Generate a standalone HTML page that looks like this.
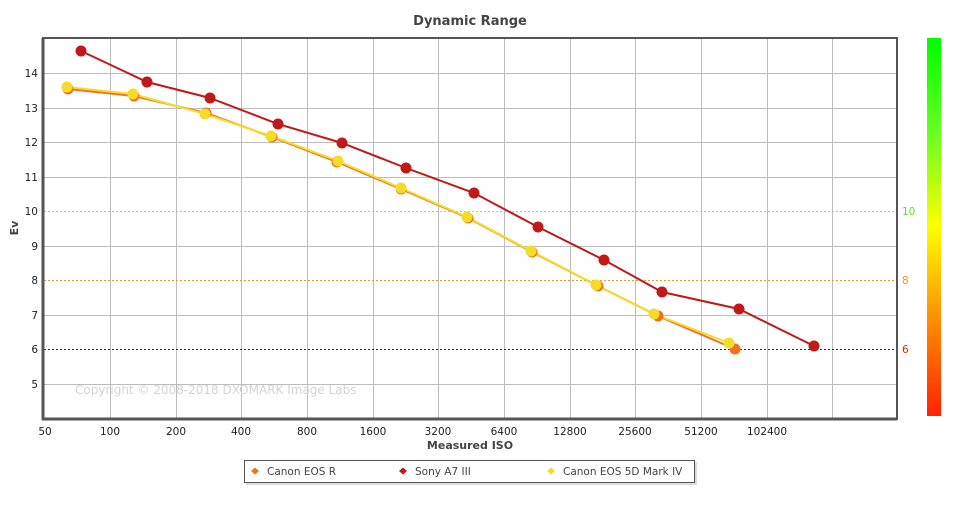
<!DOCTYPE html>
<html><head><meta charset="utf-8"><style>
body{margin:0;background:#fff;width:956px;height:501px;overflow:hidden}
svg text{font-family:"DejaVu Sans","Liberation Sans",sans-serif}
</style></head><body>
<svg width="956" height="501" xmlns="http://www.w3.org/2000/svg">
<defs><linearGradient id="g" x1="0" y1="0" x2="0" y2="1">
<stop offset="0" stop-color="#00ff00"/><stop offset="0.25" stop-color="#66ff22"/><stop offset="0.5" stop-color="#ffff00"/><stop offset="0.72" stop-color="#ff9900"/><stop offset="1" stop-color="#ff2200"/></linearGradient></defs>
<text x="470" y="25" font-size="13" font-weight="bold" fill="#444" text-anchor="middle">Dynamic Range</text>
<g stroke="#bdbdbd" stroke-width="1">
<line x1="44" y1="73.5" x2="897" y2="73.5"/><line x1="44" y1="108.5" x2="897" y2="108.5"/><line x1="44" y1="142.5" x2="897" y2="142.5"/><line x1="44" y1="177.5" x2="897" y2="177.5"/><line x1="44" y1="246.5" x2="897" y2="246.5"/><line x1="44" y1="315.5" x2="897" y2="315.5"/><line x1="44" y1="384.5" x2="897" y2="384.5"/>
<line x1="110.5" y1="38" x2="110.5" y2="419"/><line x1="176.5" y1="38" x2="176.5" y2="419"/><line x1="241.5" y1="38" x2="241.5" y2="419"/><line x1="307.5" y1="38" x2="307.5" y2="419"/><line x1="373.5" y1="38" x2="373.5" y2="419"/><line x1="438.5" y1="38" x2="438.5" y2="419"/><line x1="504.5" y1="38" x2="504.5" y2="419"/><line x1="570.5" y1="38" x2="570.5" y2="419"/><line x1="635.5" y1="38" x2="635.5" y2="419"/><line x1="701.5" y1="38" x2="701.5" y2="419"/><line x1="767.5" y1="38" x2="767.5" y2="419"/><line x1="832.5" y1="38" x2="832.5" y2="419"/>
</g>
<line x1="44" y1="211.5" x2="897" y2="211.5" stroke="#d8c060" stroke-dasharray="2,2"/>
<line x1="44" y1="280.5" x2="897" y2="280.5" stroke="#e0a020" stroke-dasharray="2,2"/>
<line x1="44" y1="349.5" x2="897" y2="349.5" stroke="#a00000" stroke-dasharray="2,2"/>
<text x="75" y="394" font-size="12" fill="#d4d4d4" font-family="Liberation Sans">Copyright © 2008-2018 DXOMARK Image Labs</text>
<rect x="43" y="38" width="854" height="381" fill="none" stroke="#555" stroke-width="2"/>
<line x1="43" y1="38" x2="43" y2="420" stroke="#555" stroke-width="3"/>
<line x1="42" y1="419" x2="897" y2="419" stroke="#555" stroke-width="3"/>
<g font-size="10.5" fill="#222" text-anchor="end">
<text x="38" y="77">14</text><text x="38" y="112">13</text><text x="38" y="146">12</text><text x="38" y="181">11</text><text x="38" y="215">10</text><text x="38" y="250">9</text><text x="38" y="284">8</text><text x="38" y="319">7</text><text x="38" y="353">6</text><text x="38" y="388">5</text>
</g>
<g font-size="10.5" fill="#222" text-anchor="middle">
<text x="45" y="435">50</text><text x="110" y="435">100</text><text x="176" y="435">200</text><text x="241" y="435">400</text><text x="307" y="435">800</text><text x="373" y="435">1600</text><text x="438" y="435">3200</text><text x="504" y="435">6400</text><text x="570" y="435">12800</text><text x="635" y="435">25600</text><text x="701" y="435">51200</text><text x="767" y="435">102400</text>
</g>
<text x="470" y="449" font-size="11" font-weight="bold" fill="#444" text-anchor="middle">Measured ISO</text>
<text transform="translate(18,228) rotate(-90)" font-size="11" font-weight="bold" fill="#444" text-anchor="middle">Ev</text>
<rect x="927" y="38" width="14" height="378" fill="url(#g)"/>
<text x="902" y="215" font-size="10.5" fill="#66dd22">10</text>
<text x="902" y="284" font-size="10.5" fill="#e0a020">8</text>
<text x="902" y="353" font-size="10.5" fill="#cc3300">6</text>
<g fill="none" stroke-width="2">
<polyline stroke="#f07020" points="68,89 134,96 206,113 272,137 337,162 401,189 468,218 532,252 598,286 658,316 735,349"/>
<polyline stroke="#c0191b" points="81,51 147,82 210,98 278,124 342,143 406,168 474,193 538,227 604,260 662,292 739,309 814,346"/>
<polyline stroke="#f5dc28" points="67,87 133,94 205,114 271,136 338,161 401,188 467,217 531,251 596,285 654,314 729,343"/>
</g>
<g fill="#f07020"><circle cx="68" cy="89" r="5.5"/><circle cx="134" cy="96" r="5.5"/><circle cx="206" cy="113" r="5.5"/><circle cx="272" cy="137" r="5.5"/><circle cx="337" cy="162" r="5.5"/><circle cx="401" cy="189" r="5.5"/><circle cx="468" cy="218" r="5.5"/><circle cx="532" cy="252" r="5.5"/><circle cx="598" cy="286" r="5.5"/><circle cx="658" cy="316" r="5.5"/><circle cx="735" cy="349" r="5.5"/></g>
<g fill="#c0191b"><circle cx="81" cy="51" r="5.5"/><circle cx="147" cy="82" r="5.5"/><circle cx="210" cy="98" r="5.5"/><circle cx="278" cy="124" r="5.5"/><circle cx="342" cy="143" r="5.5"/><circle cx="406" cy="168" r="5.5"/><circle cx="474" cy="193" r="5.5"/><circle cx="538" cy="227" r="5.5"/><circle cx="604" cy="260" r="5.5"/><circle cx="662" cy="292" r="5.5"/><circle cx="739" cy="309" r="5.5"/><circle cx="814" cy="346" r="5.5"/></g>
<g fill="#f5dc28"><circle cx="67" cy="87" r="5.5"/><circle cx="133" cy="94" r="5.5"/><circle cx="205" cy="114" r="5.5"/><circle cx="271" cy="136" r="5.5"/><circle cx="338" cy="161" r="5.5"/><circle cx="401" cy="188" r="5.5"/><circle cx="467" cy="217" r="5.5"/><circle cx="531" cy="251" r="5.5"/><circle cx="596" cy="285" r="5.5"/><circle cx="654" cy="314" r="5.5"/><circle cx="729" cy="343" r="5.5"/></g>
<rect x="246" y="462" width="451" height="23" fill="#ddd"/>
<rect x="244.5" y="460.5" width="450" height="22" fill="#fff" stroke="#555"/>
<g font-size="10.5" fill="#444" font-family="DejaVu Sans">
<path d="M251 471 L255 467.5 L259 471 L255 474.5Z" fill="#f07020"/><text x="267" y="475">Canon EOS R</text>
<path d="M399 471 L403 467.5 L407 471 L403 474.5Z" fill="#c0191b"/><text x="415" y="475">Sony A7 III</text>
<path d="M547 471 L551 467.5 L555 471 L551 474.5Z" fill="#f5dc28"/><text x="563" y="475">Canon EOS 5D Mark IV</text>
</g>
</svg>
</body></html>
